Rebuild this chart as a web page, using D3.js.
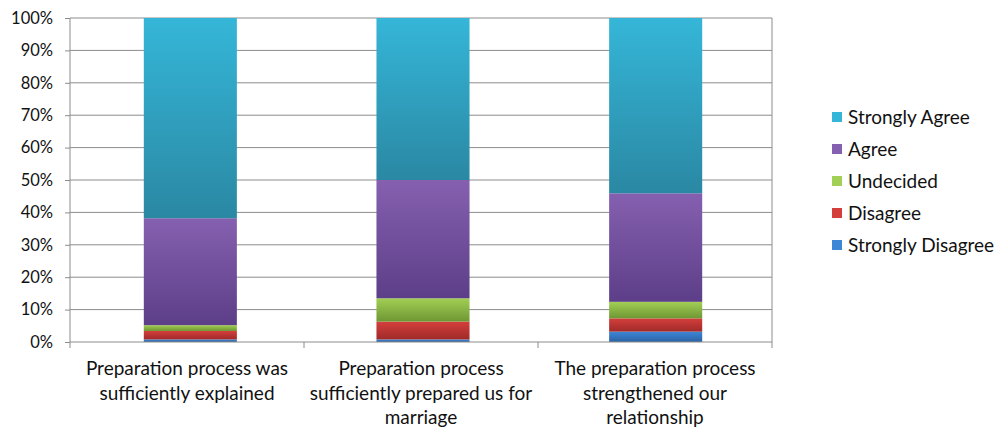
<!DOCTYPE html>
<html>
<head>
<meta charset="utf-8">
<script src="https://cdn.jsdelivr.net/npm/d3@7"></script>
<style>
  html, body { margin: 0; padding: 0; background: #fff; }
  svg { display: block; font-family: Lato, "Open Sans", sans-serif; }
</style>
</head>
<body>
<svg id="chart" width="1000" height="429"></svg>
<script>
// Survey questions (x categories)
const categories = [
  "Preparation process was sufficiently explained",
  "Preparation process sufficiently prepared us for marriage",
  "The preparation process strengthened our relationship"
];
// Wrapped label lines per category
const categoryLines = [
  ["Preparation process was", "sufficiently explained"],
  ["Preparation process", "sufficiently prepared us for", "marriage"],
  ["The preparation process", "strengthened our", "relationship"]
];
// Response levels, bottom to top in the stack
const seriesNames = ["Strongly Disagree", "Disagree", "Undecided", "Agree", "Strongly Agree"];
// Percent of respondents per category
const stronglyDisagree = [0.8, 0.8, 3.2];
const disagree         = [2.6, 5.5, 4.1];
const undecided        = [1.8, 7.2, 5.1];
const agree            = [33.0, 36.5, 33.5];
const stronglyAgree    = [61.8, 50.0, 54.1];
const yTicks = [0, 10, 20, 30, 40, 50, 60, 70, 80, 90, 100];

const seriesValues = [stronglyDisagree, disagree, undecided, agree, stronglyAgree];
// light (top) and dark (bottom) shade of each series
const shades = {
  "Strongly Disagree": ["#3e86d6", "#2b62a4"],
  "Disagree":          ["#d43f3c", "#a02a29"],
  "Undecided":         ["#a2cf55", "#6e9733"],
  "Agree":             ["#8560b0", "#5d3e88"],
  "Strongly Agree":    ["#35b6d8", "#2a88a3"]
};

const rows = categories.map((c, i) => {
  const r = { category: c };
  seriesNames.forEach((s, k) => r[s] = seriesValues[k][i]);
  return r;
});

const svg = d3.select("#chart");
const margin = { left: 70, right: 228, top: 18, bottom: 87 };
const W = 1000, H = 429;

const x = d3.scaleBand().domain(categories)
  .range([margin.left + 4, W - margin.right]).paddingInner(0.6).paddingOuter(0.3);
const y = d3.scaleLinear().domain([0, 100]).range([H - margin.bottom, margin.top]);

// gradients
const defs = svg.append("defs");
seriesNames.forEach((s, k) => {
  const g = defs.append("linearGradient").attr("id", "grad" + k)
    .attr("x1", 0).attr("y1", 0).attr("x2", 0).attr("y2", 1);
  g.append("stop").attr("offset", "0%").attr("stop-color", shades[s][0]);
  g.append("stop").attr("offset", "100%").attr("stop-color", shades[s][1]);
});

// gridlines
svg.append("g")
  .selectAll("line").data(yTicks.filter(t => t > 0)).join("line")
  .attr("x1", margin.left).attr("x2", W - margin.right)
  .attr("y1", d => y(d)).attr("y2", d => y(d))
  .attr("stroke", "#8c8c8c").attr("stroke-width", 1);

// right plot border
svg.append("line")
  .attr("x1", W - margin.right).attr("x2", W - margin.right)
  .attr("y1", y(100)).attr("y2", y(0))
  .attr("stroke", "#8c8c8c");

// stacked bars
const stacked = d3.stack().keys(seriesNames)(rows);
svg.append("g").selectAll("g").data(stacked).join("g")
  .attr("fill", (d, k) => `url(#grad${k})`)
  .selectAll("rect").data(d => d).join("rect")
  .attr("x", d => x(d.data.category))
  .attr("width", x.bandwidth())
  .attr("y", d => y(d[1]))
  .attr("height", d => y(d[0]) - y(d[1]));

// y axis
const yAxis = svg.append("g")
  .attr("transform", `translate(${margin.left},0)`)
  .call(d3.axisLeft(y).tickValues(yTicks).tickFormat(d => d + "%").tickSize(5).tickPadding(12));
yAxis.select(".domain").attr("stroke", "#8c8c8c").attr("d", `M0,${y(0)}V${y(100)}`);
yAxis.selectAll(".tick line").attr("stroke", "#8c8c8c");
yAxis.selectAll("text").attr("font-size", 16.5).attr("fill", "#111")
  .style("font-family", "Lato, 'Open Sans', sans-serif");

// x axis with category separators
const bounds = d3.range(categories.length + 1).map(i => margin.left + i * (W - margin.right - margin.left) / categories.length);
svg.append("line")
  .attr("x1", margin.left).attr("x2", W - margin.right)
  .attr("y1", y(0)).attr("y2", y(0)).attr("stroke", "#8c8c8c");
svg.append("g").selectAll("line").data(bounds).join("line")
  .attr("x1", d => d).attr("x2", d => d)
  .attr("y1", y(0)).attr("y2", y(0) + 6).attr("stroke", "#8c8c8c");

// category labels
const lab = svg.append("g").selectAll("text").data(categories).join("text")
  .attr("text-anchor", "middle").attr("font-size", 19).attr("fill", "#111")
  .attr("x", (d, i) => (bounds[i] + bounds[i + 1]) / 2)
  .attr("y", y(0) + 33);
lab.selectAll("tspan").data((d, i) => categoryLines[i]).join("tspan")
  .attr("x", function() { return d3.select(this.parentNode).attr("x"); })
  .attr("dy", (d, j) => j === 0 ? 0 : 24.5)
  .text(d => d);

// legend, top entry is the top of the stack
const legendItems = seriesNames.slice().reverse();
const legend = svg.append("g").selectAll("g").data(legendItems).join("g")
  .attr("transform", (d, i) => `translate(832,${117 + i * 32})`);
legend.append("rect").attr("x", 0).attr("y", -5).attr("width", 10).attr("height", 10)
  .attr("fill", d => shades[d][0]);
legend.append("text").attr("x", 16).attr("dy", "0.35em")
  .attr("font-size", 19).attr("fill", "#111").text(d => d);
</script>
</body>
</html>
